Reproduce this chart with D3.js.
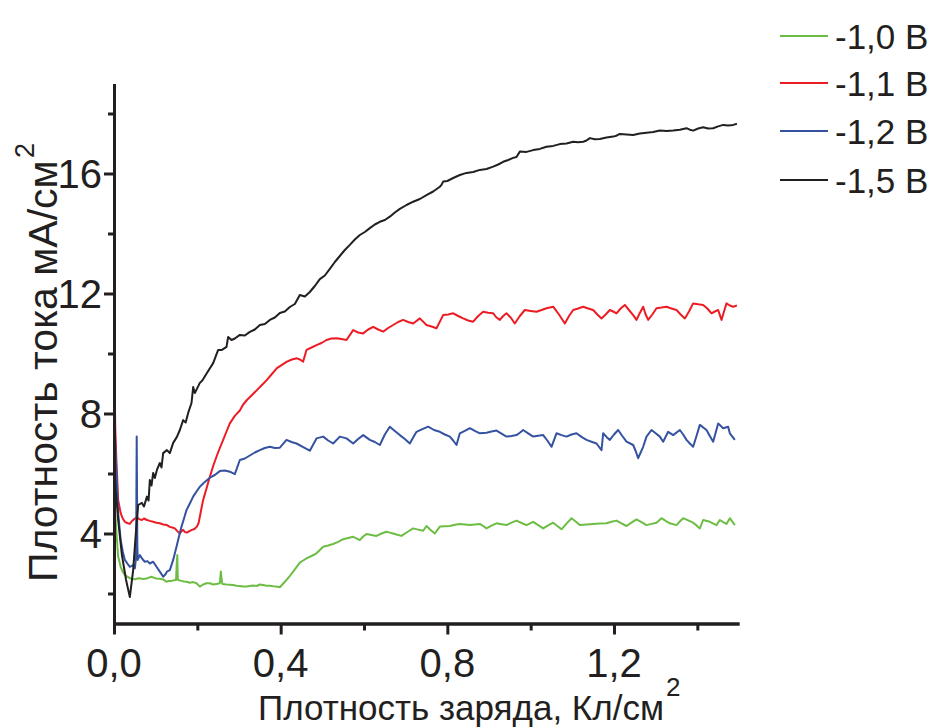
<!DOCTYPE html>
<html>
<head>
<meta charset="utf-8">
<script src="https://cdn.jsdelivr.net/npm/d3@7"></script>
<style>
  html, body { margin: 0; padding: 0; background: #ffffff; }
  svg { display: block; }
  text { font-family: "Liberation Sans", Arial, sans-serif; fill: #231f20; }
</style>
</head>
<body>
<svg id="chart" width="938" height="728"></svg>
<script>
// ---------------- data ----------------
const seriesNames = ["-1,0 В", "-1,1 В", "-1,2 В", "-1,5 В"];
const seriesColors = ["#6dbd45", "#ed1c24", "#34529f", "#231f20"];

const xMajorTicks = [0, 0.4, 0.8, 1.2];
const xMajorLabels = ["0,0", "0,4", "0,8", "1,2"];
const xMinorTicks = [0.2, 0.6, 1.0, 1.4];
const yMajorTicks = [4, 8, 12, 16];
const yMajorLabels = ["4", "8", "12", "16"];
const yMinorTicks = [2, 6, 10, 14, 18];
const xDomain = [0, 1.5];
const yDomain = [1, 19];

const xTitle = "Плотность заряда, Кл/см";
const yTitle = "Плотность тока мА/см";

// -1,0 В
const greenData = [[0,5.3],[0.002,4.89],[0.0065,3.89],[0.010,3.23],[0.016,2.89],[0.021,2.72],[0.026,2.62],[0.032,2.56],[0.038,2.51],[0.044,2.49],[0.050,2.47],[0.056,2.5],[0.062,2.51],[0.070,2.48],[0.078,2.5],[0.084,2.53],[0.090,2.56],[0.096,2.52],[0.102,2.5],[0.110,2.49],[0.118,2.47],[0.126,2.39],[0.132,2.42],[0.138,2.42],[0.144,2.44],[0.149,2.45],[0.1505,3.0],[0.152,3.28],[0.153,2.5],[0.154,2.45],[0.162,2.42],[0.168,2.4],[0.174,2.39],[0.182,2.36],[0.190,2.38],[0.198,2.34],[0.206,2.23],[0.214,2.3],[0.222,2.34],[0.230,2.34],[0.238,2.3],[0.246,2.32],[0.254,2.34],[0.2565,2.73],[0.258,2.5],[0.260,2.32],[0.270,2.3],[0.278,2.29],[0.286,2.28],[0.294,2.26],[0.302,2.25],[0.310,2.23],[0.318,2.23],[0.326,2.25],[0.334,2.27],[0.342,2.25],[0.350,2.3],[0.358,2.28],[0.366,2.26],[0.374,2.26],[0.382,2.24],[0.390,2.23],[0.398,2.21],[0.404,2.3],[0.410,2.39],[0.420,2.55],[0.430,2.73],[0.438,2.88],[0.446,3.03],[0.454,3.1],[0.462,3.17],[0.474,3.25],[0.486,3.34],[0.494,3.45],[0.502,3.56],[0.514,3.6],[0.526,3.65],[0.538,3.72],[0.550,3.81],[0.562,3.85],[0.574,3.89],[0.582,3.84],[0.590,3.78],[0.598,3.9],[0.606,3.98],[0.618,3.95],[0.630,3.92],[0.642,4.0],[0.654,4.06],[0.662,4.03],[0.670,4.0],[0.680,3.96],[0.690,3.92],[0.704,4.05],[0.718,4.17],[0.730,4.13],[0.742,4.09],[0.750,4.25],[0.760,4.12],[0.770,4.0],[0.782,4.23],[0.794,4.24],[0.806,4.25],[0.818,4.29],[0.830,4.32],[0.842,4.3],[0.854,4.28],[0.866,4.3],[0.878,4.32],[0.886,4.25],[0.894,4.17],[0.906,4.26],[0.918,4.34],[0.930,4.31],[0.942,4.28],[0.954,4.36],[0.966,4.43],[0.978,4.35],[0.990,4.28],[1.006,4.39],[1.018,4.28],[1.030,4.17],[1.042,4.27],[1.054,4.36],[1.064,4.25],[1.074,4.14],[1.086,4.33],[1.098,4.51],[1.108,4.4],[1.118,4.28],[1.134,4.3],[1.150,4.32],[1.166,4.33],[1.182,4.34],[1.194,4.39],[1.206,4.43],[1.218,4.34],[1.230,4.25],[1.242,4.36],[1.254,4.47],[1.266,4.38],[1.278,4.28],[1.290,4.32],[1.302,4.36],[1.314,4.51],[1.324,4.42],[1.334,4.34],[1.350,4.28],[1.358,4.4],[1.366,4.51],[1.378,4.44],[1.390,4.36],[1.398,4.27],[1.406,4.17],[1.414,4.45],[1.430,4.39],[1.446,4.28],[1.454,4.45],[1.462,4.38],[1.470,4.32],[1.478,4.51],[1.490,4.28]];

// -1,1 В
const redData = [[0,11.9],[0.001,9.5],[0.003,7.5],[0.006,6.35],[0.010,5.12],[0.016,4.68],[0.021,4.5],[0.026,4.39],[0.032,4.35],[0.038,4.32],[0.042,4.4],[0.046,4.45],[0.050,4.5],[0.055,4.54],[0.060,4.48],[0.067,4.45],[0.072,4.5],[0.079,4.45],[0.086,4.42],[0.094,4.39],[0.102,4.36],[0.110,4.34],[0.118,4.3],[0.127,4.28],[0.134,4.22],[0.140,4.2],[0.146,4.17],[0.152,4.08],[0.158,4.0],[0.162,4.08],[0.166,4.12],[0.170,4.05],[0.175,4.03],[0.181,4.08],[0.187,4.12],[0.193,4.15],[0.199,4.23],[0.203,4.35],[0.206,4.56],[0.210,4.85],[0.214,5.12],[0.222,5.5],[0.230,5.89],[0.238,6.25],[0.247,6.6],[0.254,6.85],[0.262,7.12],[0.270,7.4],[0.278,7.67],[0.290,7.92],[0.302,8.1],[0.310,8.3],[0.319,8.45],[0.330,8.6],[0.343,8.78],[0.355,8.95],[0.367,9.12],[0.378,9.3],[0.391,9.51],[0.403,9.62],[0.415,9.73],[0.427,9.8],[0.439,9.84],[0.446,9.8],[0.454,9.73],[0.462,10.12],[0.474,10.2],[0.486,10.28],[0.498,10.35],[0.510,10.45],[0.522,10.5],[0.534,10.51],[0.546,10.48],[0.558,10.45],[0.574,10.78],[0.586,10.7],[0.598,10.67],[0.610,10.8],[0.622,10.89],[0.634,10.8],[0.646,10.73],[0.658,10.85],[0.670,10.95],[0.682,11.05],[0.694,11.12],[0.706,11.05],[0.718,11.0],[0.734,11.17],[0.750,10.95],[0.762,10.9],[0.774,10.84],[0.790,11.28],[0.802,11.3],[0.814,11.34],[0.826,11.25],[0.838,11.17],[0.850,11.1],[0.862,11.06],[0.874,11.25],[0.886,11.39],[0.898,11.36],[0.910,11.34],[0.918,11.2],[0.926,11.12],[0.934,11.25],[0.942,11.34],[0.952,11.2],[0.962,11.0],[0.974,11.25],[0.986,11.45],[1.000,11.42],[1.014,11.39],[1.026,11.45],[1.038,11.51],[1.054,11.56],[1.068,11.3],[1.082,11.0],[1.092,11.25],[1.102,11.45],[1.114,11.5],[1.126,11.56],[1.138,11.5],[1.150,11.45],[1.160,11.3],[1.170,11.17],[1.180,11.3],[1.190,11.45],[1.198,11.4],[1.206,11.34],[1.216,11.5],[1.226,11.62],[1.236,11.45],[1.246,11.28],[1.254,11.12],[1.262,11.35],[1.270,11.56],[1.276,11.3],[1.282,11.12],[1.292,11.3],[1.302,11.51],[1.314,11.53],[1.326,11.56],[1.338,11.5],[1.350,11.45],[1.360,11.3],[1.370,11.17],[1.380,11.4],[1.390,11.67],[1.402,11.64],[1.414,11.62],[1.424,11.5],[1.434,11.34],[1.442,11.4],[1.450,11.45],[1.458,11.12],[1.464,11.4],[1.470,11.67],[1.478,11.6],[1.486,11.56],[1.495,11.6]];

// -1,2 В
const blueData = [[0,8.1],[0.003,7.0],[0.005,6.34],[0.010,4.68],[0.016,3.78],[0.021,3.4],[0.026,3.12],[0.032,3.0],[0.038,2.89],[0.043,2.92],[0.046,2.95],[0.050,2.84],[0.053,3.2],[0.0545,7.23],[0.056,3.6],[0.057,3.12],[0.062,3.28],[0.068,3.15],[0.074,3.06],[0.080,3.08],[0.086,3.0],[0.094,3.06],[0.102,2.89],[0.110,2.73],[0.118,2.56],[0.124,2.65],[0.127,2.73],[0.134,2.78],[0.142,3.12],[0.150,3.56],[0.156,3.9],[0.162,4.23],[0.168,4.5],[0.174,4.78],[0.182,5.0],[0.190,5.23],[0.198,5.4],[0.206,5.56],[0.218,5.72],[0.230,5.86],[0.242,5.95],[0.254,6.08],[0.266,6.1],[0.278,6.06],[0.290,5.98],[0.302,6.45],[0.314,6.5],[0.326,6.6],[0.338,6.7],[0.350,6.78],[0.362,6.85],[0.374,6.89],[0.386,6.85],[0.398,6.86],[0.414,7.12],[0.426,7.05],[0.438,7.0],[0.454,6.88],[0.470,6.76],[0.486,7.17],[0.502,7.23],[0.514,7.1],[0.526,7.0],[0.542,7.23],[0.558,7.17],[0.574,7.0],[0.586,7.15],[0.598,7.28],[0.614,7.12],[0.626,7.05],[0.638,6.95],[0.650,7.3],[0.662,7.56],[0.674,7.42],[0.686,7.28],[0.698,7.15],[0.710,7.0],[0.718,7.2],[0.726,7.39],[0.740,7.48],[0.754,7.56],[0.768,7.45],[0.782,7.39],[0.794,7.3],[0.806,7.23],[0.814,7.1],[0.822,6.95],[0.830,7.34],[0.842,7.42],[0.854,7.51],[0.866,7.42],[0.878,7.34],[0.894,7.36],[0.906,7.4],[0.918,7.43],[0.930,7.33],[0.942,7.23],[0.954,7.25],[0.966,7.28],[0.974,7.36],[0.982,7.45],[0.994,7.34],[1.006,7.23],[1.018,7.26],[1.030,7.28],[1.040,7.1],[1.050,6.89],[1.062,7.34],[1.074,7.28],[1.086,7.23],[1.098,7.3],[1.110,7.34],[1.122,7.22],[1.134,7.12],[1.146,7.06],[1.158,7.0],[1.170,6.78],[1.174,7.34],[1.182,7.22],[1.190,7.12],[1.200,7.3],[1.210,7.45],[1.220,7.25],[1.230,7.06],[1.246,6.95],[1.252,6.75],[1.258,6.51],[1.264,6.7],[1.270,6.89],[1.278,7.23],[1.290,7.45],[1.300,7.34],[1.310,7.23],[1.318,7.06],[1.330,7.39],[1.342,7.28],[1.358,7.45],[1.366,7.3],[1.374,7.12],[1.382,7.0],[1.390,6.89],[1.398,7.25],[1.406,7.62],[1.422,7.45],[1.430,7.25],[1.438,7.06],[1.450,7.67],[1.462,7.51],[1.474,7.56],[1.478,7.34],[1.490,7.12]];

// -1,5 В
const blackData = [[0,6.3],[0.004,5.5],[0.010,4.45],[0.019,3.28],[0.029,2.45],[0.038,1.88],[0.046,2.78],[0.053,4.12],[0.058,4.95],[0.067,5.02],[0.072,4.9],[0.079,5.23],[0.083,5.1],[0.086,5.78],[0.090,5.6],[0.094,6.02],[0.098,5.85],[0.103,6.12],[0.110,6.35],[0.114,6.2],[0.118,6.68],[0.127,6.78],[0.134,6.68],[0.142,7.02],[0.151,7.22],[0.158,7.45],[0.166,7.78],[0.172,7.7],[0.178,8.02],[0.186,8.35],[0.190,8.88],[0.194,8.68],[0.206,9.02],[0.212,9.1],[0.223,9.35],[0.238,9.68],[0.250,10.12],[0.259,10.12],[0.270,10.22],[0.274,10.55],[0.282,10.45],[0.290,10.5],[0.302,10.62],[0.314,10.6],[0.326,10.72],[0.338,10.8],[0.350,10.95],[0.362,10.98],[0.374,11.12],[0.386,11.2],[0.398,11.35],[0.410,11.4],[0.422,11.55],[0.434,11.65],[0.446,11.95],[0.458,11.9],[0.470,12.05],[0.482,12.25],[0.494,12.48],[0.506,12.6],[0.518,12.82],[0.530,13.05],[0.542,13.25],[0.554,13.45],[0.566,13.62],[0.578,13.8],[0.590,13.95],[0.602,14.05],[0.614,14.18],[0.626,14.3],[0.638,14.39],[0.650,14.45],[0.662,14.56],[0.674,14.7],[0.686,14.82],[0.702,14.95],[0.718,15.06],[0.734,15.15],[0.750,15.28],[0.766,15.4],[0.782,15.56],[0.786,15.62],[0.790,15.73],[0.800,15.75],[0.814,15.85],[0.830,15.95],[0.846,16.02],[0.862,16.05],[0.878,16.12],[0.894,16.15],[0.910,16.23],[0.922,16.3],[0.934,16.39],[0.946,16.45],[0.958,16.52],[0.966,16.55],[0.974,16.73],[0.990,16.72],[1.006,16.78],[1.022,16.82],[1.038,16.89],[1.054,16.92],[1.070,16.98],[1.086,17.0],[1.102,17.06],[1.114,17.04],[1.126,17.06],[1.134,17.1],[1.142,17.18],[1.154,17.14],[1.166,17.15],[1.182,17.2],[1.198,17.23],[1.206,17.26],[1.214,17.32],[1.230,17.3],[1.246,17.28],[1.262,17.33],[1.278,17.36],[1.294,17.38],[1.310,17.43],[1.326,17.42],[1.342,17.43],[1.358,17.46],[1.374,17.51],[1.382,17.46],[1.390,17.43],[1.402,17.5],[1.414,17.54],[1.426,17.5],[1.438,17.51],[1.450,17.57],[1.462,17.62],[1.474,17.6],[1.486,17.62],[1.495,17.66]];

const allSeries = [greenData, redData, blueData, blackData];

// ---------------- drawing ----------------
const svg = d3.select("#chart");
const axisColor = "#231f20";

const x = d3.scaleLinear().domain(xDomain).range([114, 739]);
const y = d3.scaleLinear().domain(yDomain).range([623.5, 83.5]);

// curves
const line = d3.line().x(d => x(d[0])).y(d => y(d[1]));
const plot = svg.append("g");
allSeries.forEach((s, i) => {
  plot.append("path")
    .datum(s)
    .attr("d", line)
    .attr("fill", "none")
    .attr("stroke", seriesColors[i])
    .attr("stroke-width", 2)
    .attr("stroke-linejoin", "round");
});

// axes
function styleAxis(g) {
  g.selectAll("path.domain").attr("stroke", axisColor).attr("stroke-width", 3);
  g.selectAll(".tick line").attr("stroke", axisColor).attr("stroke-width", 3);
  g.selectAll(".tick text").remove();
}
svg.append("g").attr("transform", `translate(0,${y(yDomain[0])})`)
  .call(d3.axisBottom(x).tickValues(xMajorTicks).tickSize(11).tickSizeOuter(0)).call(styleAxis);
svg.append("g").attr("transform", `translate(0,${y(yDomain[0])})`)
  .call(d3.axisBottom(x).tickValues(xMinorTicks).tickSize(7).tickSizeOuter(0)).call(styleAxis);

svg.append("g").attr("transform", `translate(${x(xDomain[0])},0)`)
  .call(d3.axisLeft(y).tickValues(yMajorTicks).tickSize(10).tickSizeOuter(0)).call(styleAxis);
svg.append("g").attr("transform", `translate(${x(xDomain[0])},0)`)
  .call(d3.axisLeft(y).tickValues(yMinorTicks).tickSize(6).tickSizeOuter(0)).call(styleAxis);

// tick labels
svg.append("g").selectAll("text").data(xMajorTicks).join("text")
  .attr("x", d => x(d))
  .attr("y", y(yDomain[0]) + 53)
  .attr("text-anchor", "middle")
  .attr("font-size", 40)
  .text((d, i) => xMajorLabels[i]);

svg.append("g").selectAll("text").data(yMajorTicks).join("text")
  .attr("x", x(xDomain[0]) - 12)
  .attr("y", d => y(d) + 14)
  .attr("text-anchor", "end")
  .attr("font-size", 40)
  .text((d, i) => yMajorLabels[i]);

// axis titles
svg.append("text")
  .attr("x", 258).attr("y", 720)
  .attr("font-size", 35)
  .text(xTitle);
svg.append("text")
  .attr("x", 666).attr("y", 696)
  .attr("font-size", 26)
  .text("2");

svg.append("text")
  .attr("transform", "translate(57,582) rotate(-90)")
  .attr("font-size", 41)
  .text(yTitle);
svg.append("text")
  .attr("transform", "translate(34,158) rotate(-90)")
  .attr("font-size", 27)
  .text("2");

// legend
const legendRows = [36, 83, 131, 180];
const legend = svg.append("g");
seriesNames.forEach((name, i) => {
  legend.append("line")
    .attr("x1", 780).attr("x2", 828)
    .attr("y1", legendRows[i]).attr("y2", legendRows[i])
    .attr("stroke", seriesColors[i]).attr("stroke-width", 2);
  legend.append("text")
    .attr("x", 835).attr("y", legendRows[i] + 13)
    .attr("font-size", 35)
    .text(name);
});
</script>
</body>
</html>
